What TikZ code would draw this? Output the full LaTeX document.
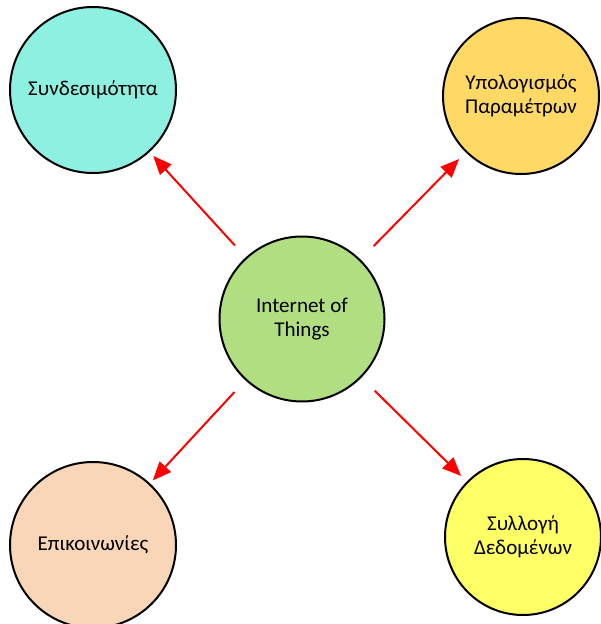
\documentclass[tikz,border=0pt]{standalone}
\usepackage{fontspec}
\setmainfont{Carlito}
\usetikzlibrary{arrows.meta}
\definecolor{tealfill}{RGB}{142,240,225}
\definecolor{goldfill}{RGB}{255,217,102}
\definecolor{greenfill}{RGB}{178,222,130}
\definecolor{peachfill}{RGB}{249,214,183}
\definecolor{yellowfill}{RGB}{255,255,102}
\tikzset{
  topic/.style={circle, draw=black, line width=1.5pt, align=center, inner sep=0pt,
    font=\fontsize{15.8}{18}\selectfont},
  link/.style={red, line width=1.5pt, -{Triangle[length=14pt,width=11.5pt]}}
}
\begin{document}
\begin{tikzpicture}[x=0.75pt,y=-0.75pt]
\useasboundingbox (0,0) rectangle (600,624);
\node[topic, fill=greenfill, minimum size=123.75pt] (iot) at (302,319) {Internet of\\Things};
\node[topic, fill=tealfill, minimum size=124.5pt] (conn) at (93,90) {Συνδεσιμότητα};
\node[topic, fill=goldfill, minimum size=117pt] (calc) at (521,96) {Υπολογισμός\\Παραμέτρων};
\node[topic, fill=peachfill, minimum size=124.5pt] (comm) at (93,545) {Επικοινωνίες};
\node[topic, fill=yellowfill, minimum size=117pt] (data) at (523,537) {Συλλογή\\Δεδομένων};
\draw[link, shorten <=12pt, shorten >=4pt] (iot) -- (conn);
\draw[link, shorten <=14pt, shorten >=7pt] (iot) -- (calc);
\draw[link, shorten <=12pt, shorten >=3pt] (iot) -- (comm);
\draw[link, shorten <=14pt, shorten >=6pt] (iot) -- (data);
\end{tikzpicture}
\end{document}
